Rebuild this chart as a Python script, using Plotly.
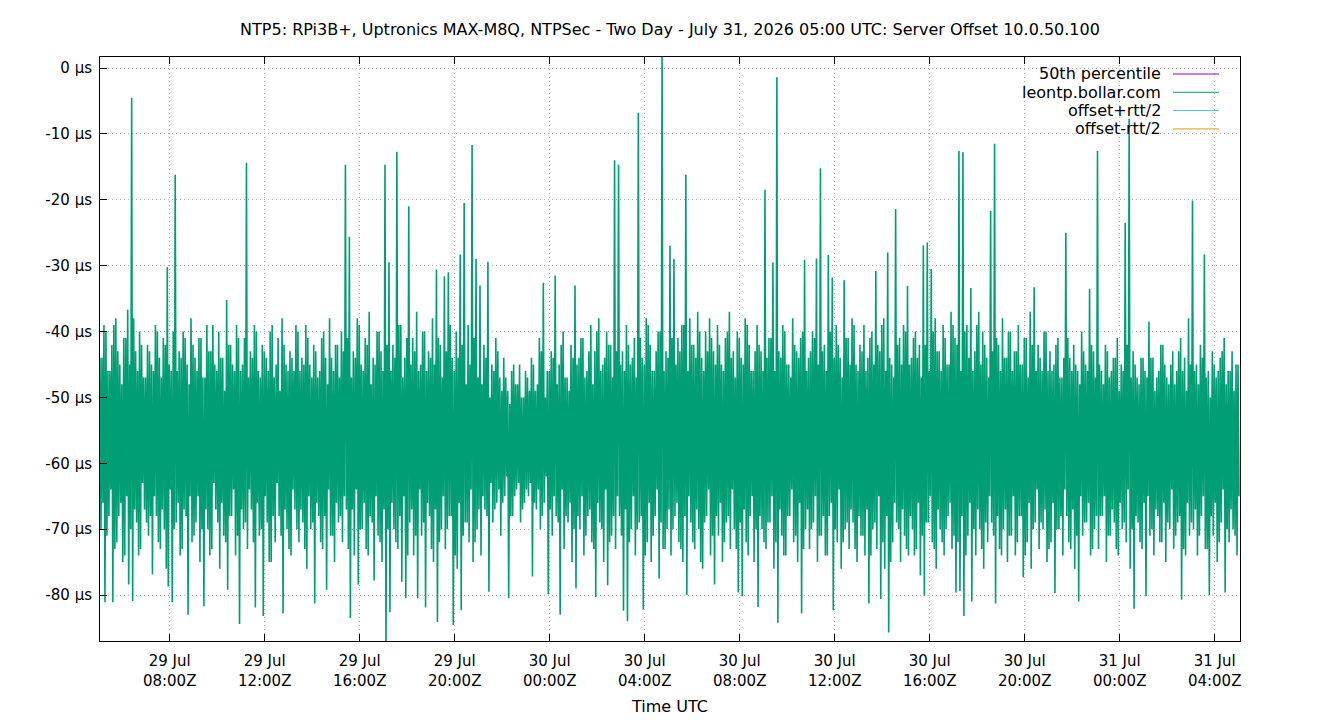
import datetime as dt
import plotly.graph_objects as go

title_text = "NTP5: RPi3B+, Uptronics MAX-M8Q, NTPSec - Two Day - July 31, 2026 05:00 UTC: Server Offset 10.0.50.100"
start_time = "2026-07-29 05:04"
end_time = "2026-07-31 05:04"
block_minutes = 10  # each block: upper_a, lower_a, upper_b, lower_b at 0, 2.5, 5, 7.5 min

# offset samples (µs), one per 10-minute block
upper_a_us = [
    -44, -39, -46, -42, -38, -45, -41, -36.7, -4.5, -43, -40, -47,
    -42, -45, -39, -44, -41, -30.2, -46, -16.2, -43, -40, -45, -38,
    -44, -41, -47, -39, -43, -45, -40, -44, -35.2, -42, -46, -41,
    -45, -14.4, -43, -39, -46, -42, -44, -40, -47, -41, -38, -45,
    -43, -46, -40, -44, -39, -45, -42, -47, -41, -44, -38, -46,
    -42, -40, -14.7, -25.6, -43, -38, -45, -41, -37, -44, -40, -43,
    -14.7, -29.5, -42, -12.7, -39, -44, -21, -41, -37, -45, -40, -43,
    -38, -30.6, -42, -31.6, -31, -44, -40, -28.3, -20.5, -39, -11.7, -29,
    -33, -42, -29.4, -45, -41, -47, -44, -49, -46, -48, -45, -50,
    -47, -44, -49, -41, -32.6, -46, -43, -31.5, -45, -40, -47, -42,
    -33, -44, -41, -46, -39, -43, -38, -45, -40, -42, -14, -14.7,
    -43, -39, -45, -41, -6.8, -44, -38, -42, -46, -40, 2.5, -43,
    -27, -29, -41, -39, -16.2, -38, -42, -37, -44, -40, -38, -43,
    -39, -45, -41, -37, -43, -40, -44, -38, -42, -46, -39, -43,
    -18.5, -41, -29.5, -1.4, -44, -40, -45, -38, -43, -41, -29.1, -44,
    -40, -28.9, -15.2, -42, -28.4, -31.8, -39, -44, -32.2, -41, -38, -45,
    -42, -39, -44, -40, -30.8, -43, -38, -28, -45, -21.4, -41, -39,
    -33.1, -44, -40, -42, -26.9, -26.5, -30.5, -38, -43, -39, -45, -37,
    -41, -12.6, -12.8, -39, -33.4, -43, -37, -40, -44, -21.7, -11.5, -42,
    -38, -44, -40, -43, -39, -45, -41, -37, -33.3, -42, -46, -40,
    -43, -45, -41, -47, -25, -44, -42, -46, -40, -45, -33.5, -43,
    -12.6, -46, -42, -47, -44, -41, -45, -23.5, -7.7, -43, -47, -44,
    -46, -38.5, -44, -47, -42, -45, -48, -43, -46, -41, -44, -38,
    -20.1, -45, -42, -28.3, -46, -43, -47, -44, -41, -46, -43, -45,
]
lower_a_us = [
    -70, -81.1, -68, -81.1, -72, -66, -74, -78.4, -80.9, -69, -73, -67,
    -71, -76.9, -68, -73, -70, -78.7, -81.1, -69, -74, -67, -83, -72,
    -69, -75, -81.7, -70, -73, -67, -76, -71, -79.2, -68, -74, -84.4,
    -70, -73, -67, -81.9, -71, -83.2, -69, -75, -72, -68, -82.8, -70,
    -74, -67, -72, -69, -76, -70, -81.3, -68, -73, -79.2, -71, -75,
    -69, -72, -67, -83.5, -74, -78.4, -70, -73, -68, -77.8, -71, -75,
    -89, -82.6, -70, -73, -78, -80.5, -69, -74, -80.5, -71, -81.9, -68,
    -75, -84.1, -70, -73, -68, -84.5, -76, -82.3, -69, -72, -75, -70,
    -74, -67, -79.5, -69, -66, -71, -65, -80.5, -68, -64, -69, -66,
    -65, -77.2, -67, -70, -66, -79.9, -71, -68, -83, -73, -69, -75,
    -79, -70, -74, -68, -72, -80.3, -69, -75, -78.5, -71, -73, -68,
    -82.4, -84, -70, -74, -69, -82.2, -72, -75, -68, -77.5, -73, -70,
    -74, -68, -72, -75, -80, -69, -73, -70, -76, -68, -74, -78.4,
    -71, -75, -69, -73, -70, -79.6, -80.2, -72, -68, -75, -81.8, -70,
    -73, -69, -76, -84.2, -71, -74, -68, -72, -75, -82.8, -70, -73,
    -69, -75, -71, -74, -68, -82.3, -72, -76, -70, -73, -69, -75,
    -71, -74, -81.3, -70, -73, -80.6, -76, -85.7, -72, -69, -75, -71,
    -74, -70, -73, -77, -80.1, -69, -72, -76, -70, -74, -68, -73,
    -79.6, -79.4, -83.2, -71, -81, -74, -70, -76, -72, -69, -81.3, -73,
    -70, -75, -71, -74, -68, -77.3, -72, -76, -69, -73, -70, -75,
    -72, -79.7, -70, -74, -68, -73, -76, -81, -71, -69, -74, -70,
    -73, -68, -75, -71, -69, -74, -70, -72, -76, -82.1, -69, -73,
    -80.2, -71, -74, -68, -72, -75, -70, -73, -69, -80.7, -74, -71,
    -70, -74, -68, -73, -80, -71, -75, -69, -79.6, -72, -70, -74,
]
upper_b_us = [
    -44, -40, -46, -39, -43, -48, -41, -45, -38, -46, -42, -47,
    -43, -46, -40, -47, -42, -45, -40, -46, -44, -41, -48, -42,
    -46, -41, -47, -43, -39, -46, -44, -49, -42, -45, -39, -46,
    -41, -47, -44, -40, -47, -43, -46, -39, -45, -49, -42, -46,
    -44, -39, -46, -45, -41, -47, -43, -46, -40, -48, -44, -42,
    -47, -43, -41, -47, -44, -39, -46, -42, -48, -45, -40, -46,
    -42, -46, -44, -39, -47, -41, -45, -43, -46, -40, -46, -44,
    -45, -41, -47, -43, -39, -46, -44, -42, -48, -45, -41, -47,
    -48, -44, -50, -46, -43, -49, -47, -51, -45, -48, -50, -46,
    -49, -45, -48, -43, -50, -46, -44, -48, -42, -47, -49, -44,
    -45, -41, -47, -43, -48, -40, -46, -44, -42, -47, -43, -45,
    -46, -42, -44, -47, -41, -45, -39, -46, -43, -40, -46, -44,
    -41, -45, -43, -39, -46, -42, -44, -40, -46, -43, -41, -45,
    -42, -46, -40, -44, -47, -41, -45, -39, -46, -43, -42, -46,
    -44, -41, -46, -43, -39, -45, -47, -42, -44, -40, -46, -43,
    -41, -45, -43, -46, -40, -44, -42, -47, -41, -45, -39, -46,
    -43, -46, -41, -45, -42, -39, -46, -44, -47, -42, -45, -40,
    -45, -41, -44, -47, -42, -46, -40, -43, -46, -41, -45, -39,
    -42, -46, -40, -44, -46, -39, -45, -42, -47, -43, -41, -46,
    -44, -40, -46, -43, -45, -41, -47, -42, -46, -44, -40, -46,
    -46, -42, -47, -44, -41, -46, -45, -48, -43, -46, -42, -47,
    -45, -48, -43, -46, -44, -49, -46, -42, -47, -45, -48, -44,
    -47, -44, -49, -46, -42, -47, -45, -48, -43, -46, -49, -45,
    -46, -48, -44, -47, -50, -45, -46, -43, -48, -46, -49, -45,
]
lower_b_us = [
    -66, -71, -64, -73, -68, -75, -65, -70, -67, -74, -63, -69,
    -68, -65, -72, -67, -76, -64, -70, -66, -73, -68, -65, -71,
    -65, -70, -67, -74, -63, -69, -66, -72, -68, -64, -71, -67,
    -69, -64, -72, -66, -70, -65, -75, -68, -63, -71, -67, -73,
    -64, -70, -67, -73, -65, -69, -66, -72, -68, -64, -71, -66,
    -68, -65, -73, -67, -64, -70, -66, -74, -69, -65, -72, -67,
    -70, -66, -72, -68, -65, -74, -67, -71, -64, -69, -66, -73,
    -67, -72, -65, -70, -68, -74, -66, -71, -69, -64, -72, -67,
    -65, -68, -63, -67, -64, -66, -62, -68, -65, -63, -67, -64,
    -63, -66, -64, -68, -62, -67, -65, -69, -64, -68, -66, -70,
    -68, -65, -71, -67, -73, -66, -70, -64, -72, -68, -65, -71,
    -67, -72, -65, -70, -68, -74, -66, -71, -64, -69, -73, -67,
    -70, -66, -73, -68, -65, -72, -67, -75, -69, -64, -71, -68,
    -66, -72, -68, -64, -73, -69, -67, -74, -65, -70, -68, -72,
    -69, -65, -72, -67, -74, -68, -64, -71, -66, -73, -67, -70,
    -65, -71, -68, -74, -66, -70, -64, -72, -69, -67, -73, -68,
    -71, -67, -74, -69, -65, -72, -68, -75, -66, -70, -67, -73,
    -68, -74, -66, -71, -69, -65, -73, -67, -72, -70, -66, -71,
    -72, -68, -74, -66, -70, -67, -73, -69, -65, -71, -68, -74,
    -67, -71, -65, -72, -68, -74, -66, -70, -64, -69, -67, -73,
    -66, -70, -68, -64, -72, -67, -71, -65, -69, -66, -73, -68,
    -68, -65, -71, -67, -73, -66, -69, -64, -70, -68, -72, -66,
    -65, -70, -67, -72, -66, -69, -64, -71, -68, -73, -66, -69,
    -67, -71, -65, -73, -68, -66, -72, -64, -70, -67, -71, -65,
]

x_tick_times = ["2026-07-29 08:00", "2026-07-29 12:00", "2026-07-29 16:00", "2026-07-29 20:00",
                "2026-07-30 00:00", "2026-07-30 04:00", "2026-07-30 08:00", "2026-07-30 12:00",
                "2026-07-30 16:00", "2026-07-30 20:00", "2026-07-31 00:00", "2026-07-31 04:00"]
x_tick_labels = ["29 Jul<br>08:00Z", "29 Jul<br>12:00Z", "29 Jul<br>16:00Z", "29 Jul<br>20:00Z",
                 "30 Jul<br>00:00Z", "30 Jul<br>04:00Z", "30 Jul<br>08:00Z", "30 Jul<br>12:00Z",
                 "30 Jul<br>16:00Z", "30 Jul<br>20:00Z", "31 Jul<br>00:00Z", "31 Jul<br>04:00Z"]
y_tick_values = [0, -10, -20, -30, -40, -50, -60, -70, -80]
y_tick_labels = ["0 µs", "-10 µs", "-20 µs", "-30 µs", "-40 µs", "-50 µs", "-60 µs", "-70 µs", "-80 µs"]
y_range = [-86.98, 1.67]

legend_names = ["50th percentile", "leontp.bollar.com", "offset+rtt/2", "offset-rtt/2"]
legend_colors = ["#9400d3", "#009e73", "#56b4e9", "#e69f00"]

# build the series in time order
t0 = dt.datetime.strptime(start_time, "%Y-%m-%d %H:%M")
times, values = [], []
for k in range(len(upper_a_us)):
    base = t0 + dt.timedelta(minutes=block_minutes * k)
    quarter = dt.timedelta(minutes=block_minutes / 4)
    for j, series in enumerate((upper_a_us, lower_a_us, upper_b_us, lower_b_us)):
        times.append(base + j * quarter)
        values.append(series[k])

font = "DejaVu Sans, sans-serif"
fig = go.Figure()
fig.add_trace(go.Scatter(x=times, y=values, mode="lines",
                         line=dict(color="#009e73", width=1.6),
                         name=legend_names[1], showlegend=False, hoverinfo="skip"))

axis_common = dict(showline=True, linecolor="black", linewidth=1,
                   ticks="inside", ticklen=7, tickcolor="black", tickwidth=1,
                   showgrid=True, gridcolor="#b4b4b4", gridwidth=1, griddash="1px,3px",
                   zeroline=False, automargin=False,
                   tickfont=dict(family=font, size=15, color="black"))

fig.update_xaxes(type="date", range=[start_time, end_time],
                 tickmode="array", tickvals=x_tick_times, ticktext=x_tick_labels,
                 mirror="ticks", ticklabelstandoff=6,
                 title=dict(text="Time UTC", font=dict(family=font, size=16, color="black"), standoff=12),
                 **axis_common)
fig.update_yaxes(range=y_range, tickmode="array", tickvals=y_tick_values, ticktext=y_tick_labels,
                 mirror=True, ticklabelstandoff=4, **axis_common)

# gnuplot-style legend: right-aligned text, sample line on its right
for i, (name, color) in enumerate(zip(legend_names, legend_colors)):
    ypos = 1 - (17 + 18.3 * i) / 584
    fig.add_annotation(xref="paper", yref="paper", x=(1163 - 100) / 1140, y=ypos,
                       text=name, showarrow=False, xanchor="right", yanchor="middle",
                       font=dict(family=font, size=16, color="black"))
    fig.add_shape(type="line", xref="paper", yref="paper",
                  x0=(1173 - 100) / 1140, x1=(1219 - 100) / 1140, y0=ypos, y1=ypos,
                  line=dict(color=color, width=1))

fig.update_layout(width=1340, height=720,
                  margin=dict(l=100, r=100, t=57, b=79),
                  paper_bgcolor="white", plot_bgcolor="white",
                  title=dict(text=title_text, x=0.5, xanchor="center", y=1 - 29 / 720, yanchor="middle",
                             font=dict(family=font, size=16, color="black")),
                  showlegend=False)

fig.write_html("out.html")
